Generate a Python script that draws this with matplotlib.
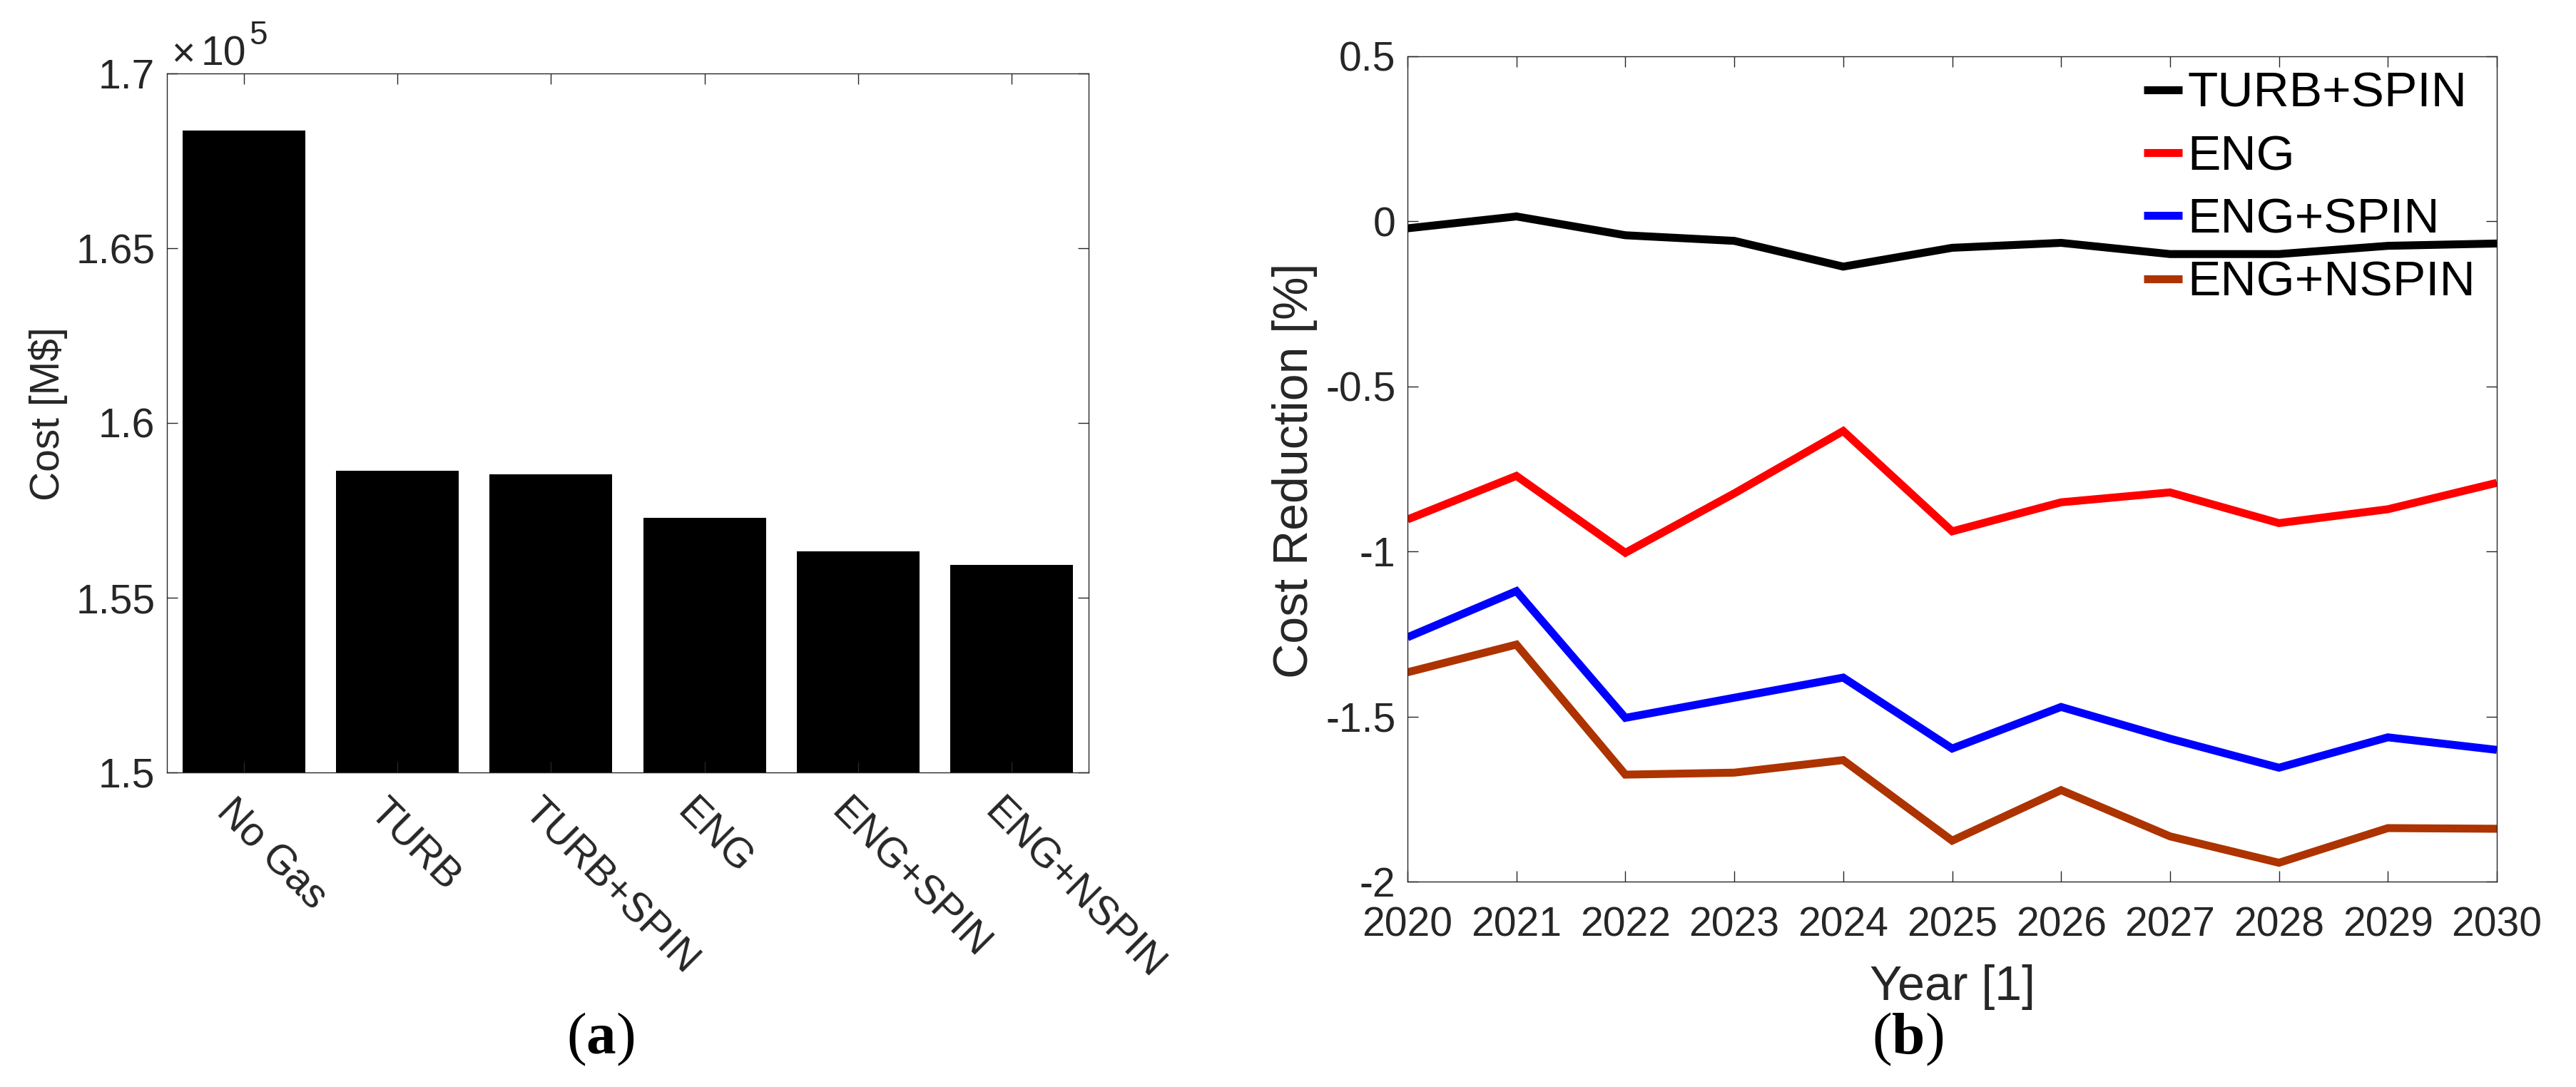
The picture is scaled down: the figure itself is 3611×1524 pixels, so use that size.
import matplotlib
matplotlib.use("Agg")
import matplotlib.pyplot as plt
from matplotlib.ticker import FuncFormatter
from matplotlib.transforms import ScaledTranslation
import numpy as np

# ---------------- data ----------------
categories = ["No Gas", "TURB", "TURB+SPIN", "ENG", "ENG+SPIN", "ENG+NSPIN"]
cost = [1.6837e5, 1.5864e5, 1.5854e5, 1.5729e5, 1.5632e5, 1.5594e5]

years = [2020, 2021, 2022, 2023, 2024, 2025, 2026, 2027, 2028, 2029, 2030]
turb_spin = [-0.021, 0.015, -0.042, -0.059, -0.137, -0.080, -0.065, -0.099, -0.099, -0.074, -0.067]
eng = [-0.903, -0.771, -1.004, -0.824, -0.635, -0.939, -0.851, -0.821, -0.914, -0.872, -0.792]
eng_spin = [-1.260, -1.120, -1.504, -1.443, -1.382, -1.597, -1.471, -1.567, -1.655, -1.563, -1.601]
eng_nspin = [-1.366, -1.282, -1.676, -1.670, -1.632, -1.876, -1.723, -1.863, -1.943, -1.838, -1.840]
series_labels = ["TURB+SPIN", "ENG", "ENG+SPIN", "ENG+NSPIN"]
series_colors = ["#000000", "#FF0000", "#0000FF", "#AD3300"]

cost_ticks = [1.5e5, 1.55e5, 1.6e5, 1.65e5, 1.7e5]
red_ticks = [-2, -1.5, -1, -0.5, 0, 0.5]

# ---------------- style ----------------
plt.rcParams["font.family"] = ["Liberation Sans", "DejaVu Sans"]
plt.rcParams["mathtext.fontset"] = "custom"
plt.rcParams["mathtext.rm"] = "Liberation Serif"
plt.rcParams["mathtext.it"] = "Liberation Serif:italic"
plt.rcParams["mathtext.bf"] = "Liberation Serif:bold"

W, H = 3611, 1524
DPI = 100
fig = plt.figure(figsize=(W / DPI, H / DPI), dpi=DPI)
fig.patch.set_facecolor("white")

GRAY = "#262626"
TICK_FS = 41


def fx(x):
    return x / W


def fy(y):
    return 1 - y / H


def px_axes(x0, y0, x1, y1):
    return fig.add_axes([x0 / W, 1 - y1 / H, (x1 - x0) / W, (y1 - y0) / H])


def style_axes(ax, xpad, ypad):
    for s in ax.spines.values():
        s.set_color(GRAY)
        s.set_linewidth(1.0)
    ax.tick_params(direction="in", length=10.8, width=1.0, colors=GRAY,
                   top=True, right=True, labelsize=TICK_FS)
    ax.tick_params(axis="x", pad=xpad)
    ax.tick_params(axis="y", pad=ypad)


# ---------------- (a) bar chart ----------------
ax1 = px_axes(234, 103, 1526, 1083)
xpos = np.arange(1, len(categories) + 1)
ax1.bar(xpos, cost, width=0.8, color="black", edgecolor="none")
ax1.set_xlim(0.5, len(categories) + 0.5)
ax1.set_ylim(cost_ticks[0], cost_ticks[-1])
ax1.set_yticks(cost_ticks)
ax1.yaxis.set_major_formatter(FuncFormatter(lambda v, p: f"{v / 1e5:g}"))
ax1.set_xticks(xpos)
ax1.set_xticklabels(categories, rotation=-45, ha="left", va="top",
                    rotation_mode="anchor")
style_axes(ax1, xpad=20, ypad=12)
off = ScaledTranslation(-11 / DPI, 0, fig.dpi_scale_trans)
for lab in ax1.get_xticklabels():
    lab.set_transform(lab.get_transform() + off)

# x10^5 multiplier
fig.text(fx(240), fy(92), "\u00d7", fontsize=TICK_FS, color=GRAY, ha="left", va="baseline")
fig.text(fx(282), fy(92), "10", fontsize=TICK_FS, color=GRAY, ha="left", va="baseline")
fig.text(fx(349), fy(62), "5", fontsize=33, color=GRAY, ha="left", va="baseline")

fig.text(fx(83), fy(580), "Cost [M$]", fontsize=41, color=GRAY,
         rotation=90, rotation_mode="anchor", ha="center", va="baseline")

# ---------------- (b) line chart ----------------
ax2 = px_axes(1973, 79, 3500, 1236)
for vals, lab, col in zip([turb_spin, eng, eng_spin, eng_nspin], series_labels, series_colors):
    ax2.plot(years, vals, color=col, linewidth=8.0, label=lab,
             solid_joinstyle="miter", solid_capstyle="butt")
ax2.set_xlim(years[0], years[-1])
ax2.set_ylim(red_ticks[0], red_ticks[-1])
ax2.set_xticks(years)
ax2.set_yticks(red_ticks)
ax2.yaxis.set_major_formatter(FuncFormatter(lambda v, p: f"{v:g}"))
style_axes(ax2, xpad=25, ypad=12)

leg = ax2.legend(loc="upper left", bbox_to_anchor=(fx(3005), fy(100)),
                 bbox_transform=fig.transFigure, frameon=False, fontsize=50,
                 handlelength=0.78, handletextpad=0.1, labelspacing=0.35,
                 borderpad=0, borderaxespad=0)
for t in leg.get_texts():
    t.set_color("black")

fig.text(fx(1833), fy(660), "Cost Reduction [%]", fontsize=49, color=GRAY,
         rotation=90, rotation_mode="anchor", ha="center", va="baseline")
fig.text(fx(2737), fy(1402), "Year [1]", fontsize=49, color=GRAY,
         ha="center", va="baseline")

# ---------------- captions ----------------
fig.text(fx(842), fy(1477), r"($\mathbf{a}$)", fontsize=60, color="black",
         family="Liberation Serif", ha="center", va="baseline")
fig.text(fx(2674), fy(1477), r"($\mathbf{b}$)", fontsize=60, color="black",
         family="Liberation Serif", ha="center", va="baseline")

fig.savefig("out.png", dpi=DPI, facecolor="white")
